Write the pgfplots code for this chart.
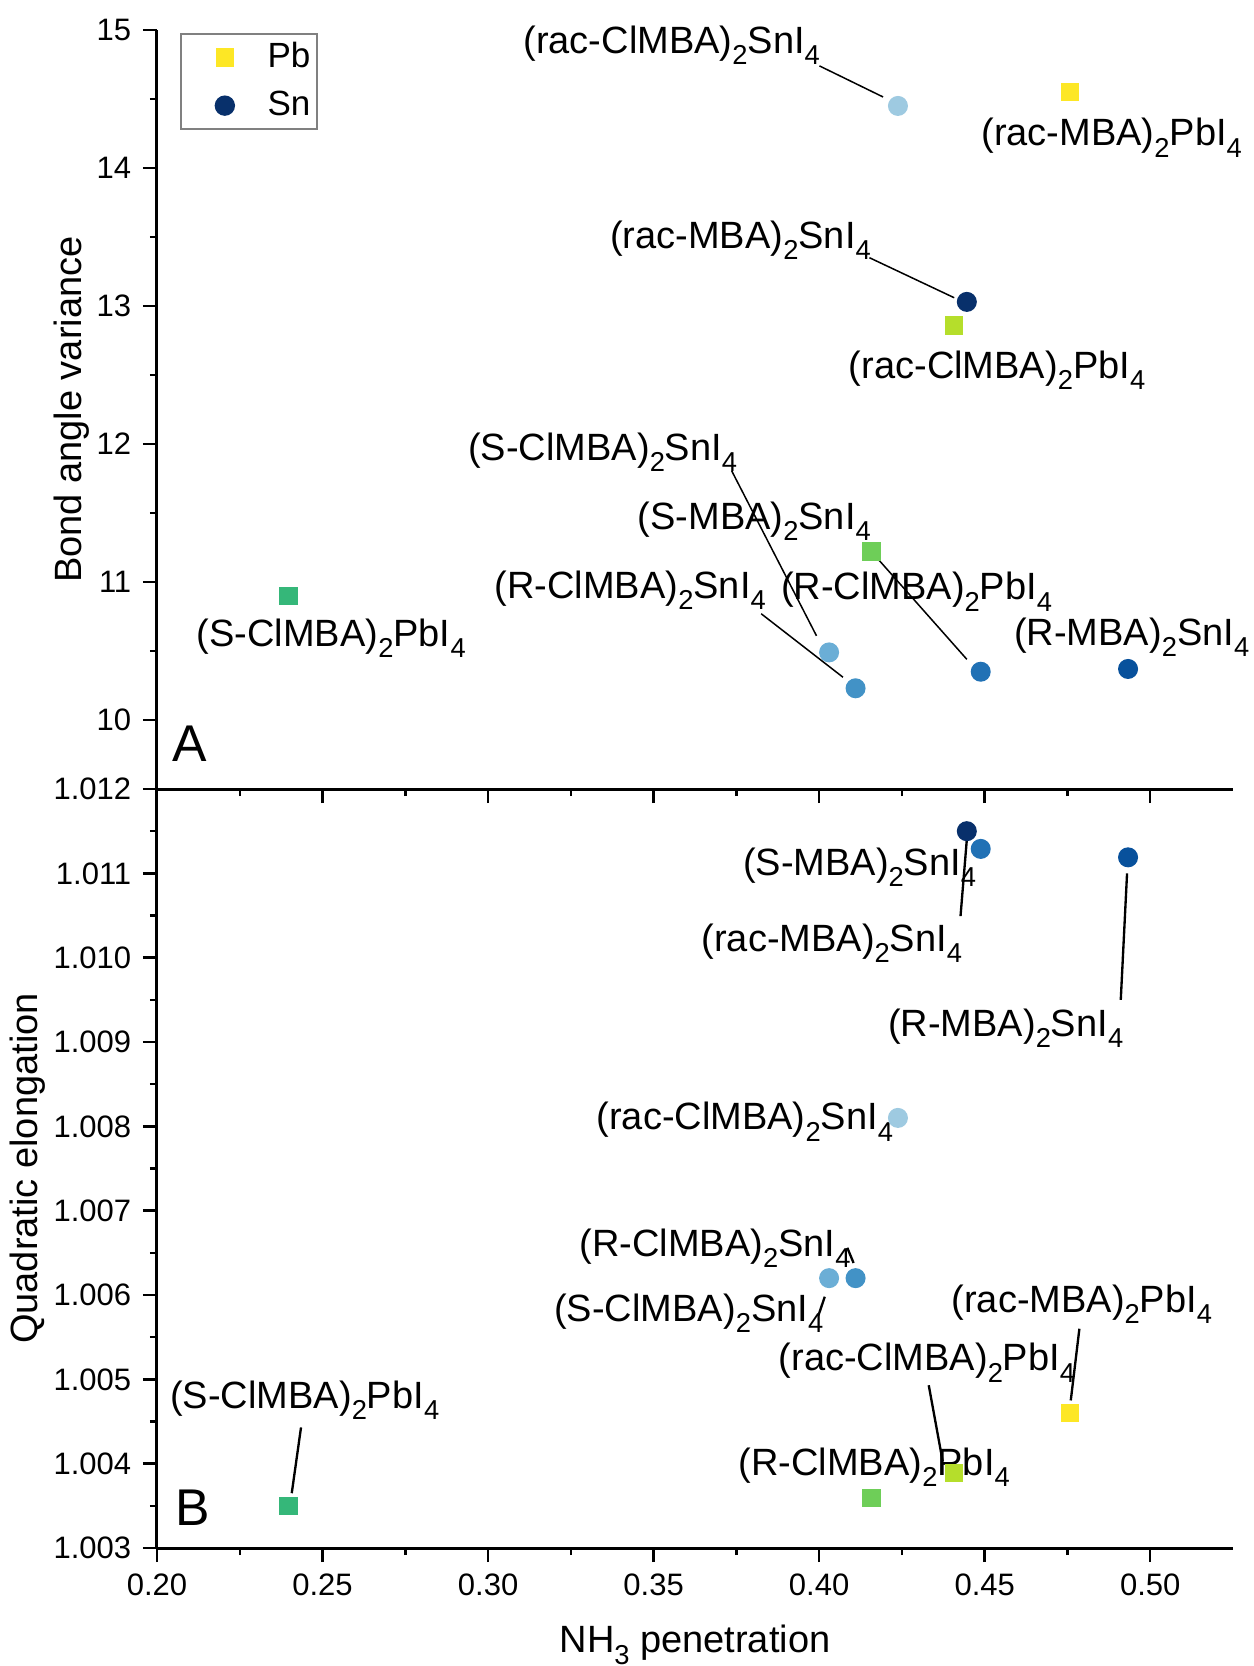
\documentclass[border=0pt]{standalone}
\usepackage{fontspec}
\setmainfont{Liberation Sans}
\usepackage{pgfplots}
\pgfplotsset{compat=1.18}

\definecolor{pbA}{HTML}{FDE725}
\definecolor{pbB}{HTML}{B5DE2B}
\definecolor{pbC}{HTML}{6ECE58}
\definecolor{pbD}{HTML}{35B779}
\definecolor{snA}{HTML}{9ECAE1}
\definecolor{snB}{HTML}{6BAED6}
\definecolor{snC}{HTML}{4292C6}
\definecolor{snD}{HTML}{2171B5}
\definecolor{snE}{HTML}{08519C}
\definecolor{snF}{HTML}{08306B}

\newcommand{\annfont}{\fontsize{11.4}{13}\selectfont}
\newcommand{\sub}[1]{\raisebox{-3.4pt}{\fontsize{8.2}{9}\selectfont #1}}
\newcommand{\cmp}[2]{(#1)\sub{2}#2I\sub{4}}

\pgfplotsset{
  panel/.style={
    scale only axis, width=322.8pt, height=227.7pt,
    xmin=0.2, xmax=0.525,
    axis lines=left,
    axis line style={-, line width=0.9pt},
    every tick/.style={black, line width=0.75pt},
    tick align=outside,
    major tick length=4.2pt, minor tick length=2.1pt,
    xtick={0.20,0.25,0.30,0.35,0.40,0.45,0.50},
    minor x tick num=1,
    minor y tick num=1,
    clip=false,
    /pgf/number format/assume math mode=true,
    tick label style={font=\fontsize{9.3}{11}\selectfont},
    label style={font=\fontsize{11.4}{13}\selectfont},
    scaled ticks=false,
  },
  pb/.style={only marks, mark=square*, mark size=2.55pt, mark options={draw=#1, fill=#1}},
  sn/.style={only marks, mark=*, mark size=2.8pt, mark options={draw=#1, fill=#1}},
}

\begin{document}
\begin{tikzpicture}
\begin{axis}[panel, name=top,
  ymin=9.5, ymax=15,
  ytick={10,11,12,13,14,15},
  xticklabels={},
  ylabel={Bond angle variance},
  ylabel style={at={(axis description cs:-0.0706,0.5)}, anchor=base, rotate=0},
  legend image code/.code={%
    \path[draw=none, fill=none] (0pt,0pt) -- (24pt,0pt);
    \draw[#1] plot coordinates {(12.2pt,0pt)};},
  legend style={at={(0.0214,0.996)}, anchor=north west, draw=gray, line width=0.5pt,
    font=\fontsize{10.5}{12}\selectfont, inner xsep=1pt, inner ysep=1.5pt,
    row sep=3.5pt, nodes={inner xsep=1pt, inner ysep=1pt}},
  legend cell align=left,
]
\addlegendimage{pb=pbA}
\addlegendentry{Pb}
\addlegendimage{sn=snF}
\addlegendentry{Sn}
% Pb
\addplot[pb=pbA, forget plot] coordinates {(0.4757,14.55)};
\addplot[pb=pbB, forget plot] coordinates {(0.4408,12.86)};
\addplot[pb=pbC, forget plot] coordinates {(0.4158,11.22)};
\addplot[pb=pbD, forget plot] coordinates {(0.2397,10.90)};
% Sn
\addplot[sn=snA, forget plot] coordinates {(0.4238,14.45)};
\addplot[sn=snB, forget plot] coordinates {(0.4030,10.49)};
\addplot[sn=snC, forget plot] coordinates {(0.4110,10.23)};
\addplot[sn=snD, forget plot] coordinates {(0.4488,10.35)};
\addplot[sn=snE, forget plot] coordinates {(0.4933,10.37)};
\addplot[sn=snF, forget plot] coordinates {(0.4446,13.03)};
% labels
\node[anchor=base west, inner sep=0pt, font=\annfont] at (axis cs:0.3105,14.83) {\cmp{rac-ClMBA}{Sn}};
\draw[line width=0.45pt] (axis cs:0.4001,14.74) -- (axis cs:0.4193,14.515);
\node[anchor=base west, inner sep=0pt, font=\annfont] at (axis cs:0.4488,14.16) {\cmp{rac-MBA}{Pb}};
\node[anchor=base west, inner sep=0pt, font=\annfont] at (axis cs:0.3367,13.42) {\cmp{rac-MBA}{Sn}};
\draw[line width=0.45pt] (axis cs:0.4152,13.35) -- (axis cs:0.4408,13.06);
\node[anchor=base west, inner sep=0pt, font=\annfont] at (axis cs:0.4088,12.475) {\cmp{rac-ClMBA}{Pb}};
\node[anchor=base west, inner sep=0pt, font=\annfont] at (axis cs:0.2938,11.88) {\cmp{S-ClMBA}{Sn}};
\draw[line width=0.45pt] (axis cs:0.3736,11.805) -- (axis cs:0.3992,10.61);
\node[anchor=base west, inner sep=0pt, font=\annfont] at (axis cs:0.3450,11.38) {\cmp{S-MBA}{Sn}};
\draw[line width=0.45pt] (axis cs:0.4158,11.22) -- (axis cs:0.4446,10.44);
\node[anchor=base west, inner sep=0pt, font=\annfont] at (axis cs:0.3018,10.88) {\cmp{R-ClMBA}{Sn}};
\draw[line width=0.45pt] (axis cs:0.3825,10.77) -- (axis cs:0.4072,10.31);
\node[anchor=base west, inner sep=0pt, font=\annfont] at (axis cs:0.3883,10.87) {\cmp{R-ClMBA}{Pb}};
\node[anchor=base west, inner sep=0pt, font=\annfont] at (axis cs:0.4587,10.54) {\cmp{R-MBA}{Sn}};
\node[anchor=base west, inner sep=0pt, font=\annfont] at (axis cs:0.2118,10.535) {\cmp{S-ClMBA}{Pb}};
\node[anchor=base west, inner sep=0pt, font=\fontsize{15.5}{17}\selectfont] at (axis cs:0.2045,9.70) {A};
\end{axis}

\begin{axis}[panel, name=bot, at={(top.south west)}, anchor=north west,
  ymin=1.003, ymax=1.012,
  ytick={1.003,1.004,1.005,1.006,1.007,1.008,1.009,1.010,1.011,1.012},
  yticklabel style={/pgf/number format/.cd, fixed, fixed zerofill, precision=3},
  xticklabel style={/pgf/number format/.cd, fixed, fixed zerofill, precision=2},
  xlabel={NH\sub{3} penetration},
  xlabel style={at={(axis description cs:0.5,-0.1383)}, anchor=base},
  ylabel={Quadratic elongation},
  ylabel style={at={(axis description cs:-0.1115,0.5)}, anchor=base, rotate=0},
]
% Pb
\addplot[pb=pbA] coordinates {(0.4757,1.00460)};
\addplot[pb=pbB] coordinates {(0.4408,1.00389)};
\addplot[pb=pbC] coordinates {(0.4158,1.00359)};
\addplot[pb=pbD] coordinates {(0.2397,1.00350)};
% Sn
\addplot[sn=snA] coordinates {(0.4238,1.00810)};
\addplot[sn=snB] coordinates {(0.4030,1.00620)};
\addplot[sn=snC] coordinates {(0.4110,1.00620)};
\addplot[sn=snD] coordinates {(0.4488,1.01129)};
\addplot[sn=snE] coordinates {(0.4933,1.01119)};
\addplot[sn=snF] coordinates {(0.4446,1.01150)};
% labels
\node[anchor=base west, inner sep=0pt, font=\annfont] at (axis cs:0.3768,1.01098) {\cmp{S-MBA}{Sn}};
\node[anchor=base west, inner sep=0pt, font=\annfont] at (axis cs:0.3643,1.010077) {\cmp{rac-MBA}{Sn}};
\draw[line width=0.7pt] (axis cs:0.4427,1.010493) -- (axis cs:0.4446,1.0114);
\node[anchor=base west, inner sep=0pt, font=\annfont] at (axis cs:0.4206,1.009069) {\cmp{R-MBA}{Sn}};
\draw[line width=0.7pt] (axis cs:0.4911,1.0095) -- (axis cs:0.4930,1.0110);
\node[anchor=base west, inner sep=0pt, font=\annfont] at (axis cs:0.3326,1.00796) {\cmp{rac-ClMBA}{Sn}};
\node[anchor=base west, inner sep=0pt, font=\annfont] at (axis cs:0.3274,1.00646) {\cmp{R-ClMBA}{Sn}};
\draw[line width=0.7pt] (axis cs:0.4085,1.00656) -- (axis cs:0.4104,1.00638);
\node[anchor=base west, inner sep=0pt, font=\annfont] at (axis cs:0.3198,1.00569) {\cmp{S-ClMBA}{Sn}};
\draw[line width=0.7pt] (axis cs:0.3998,1.00576) -- (axis cs:0.4017,1.00598);
\node[anchor=base west, inner sep=0pt, font=\annfont] at (axis cs:0.4398,1.005792) {\cmp{rac-MBA}{Pb}};
\draw[line width=0.7pt] (axis cs:0.4786,1.0056) -- (axis cs:0.4760,1.00475);
\node[anchor=base west, inner sep=0pt, font=\annfont] at (axis cs:0.3876,1.0051) {\cmp{rac-ClMBA}{Pb}};
\draw[line width=0.7pt] (axis cs:0.4331,1.00493) -- (axis cs:0.4373,1.00403);
\node[anchor=base west, inner sep=0pt, font=\annfont] at (axis cs:0.3755,1.003864) {\cmp{R-ClMBA}{Pb}};
\node[anchor=base west, inner sep=0pt, font=\annfont] at (axis cs:0.2038,1.00466) {\cmp{S-ClMBA}{Pb}};
\draw[line width=0.7pt] (axis cs:0.2435,1.00443) -- (axis cs:0.2407,1.00365);
\node[anchor=base west, inner sep=0pt, font=\fontsize{15.5}{17}\selectfont] at (axis cs:0.2054,1.003272) {B};
\end{axis}
\pgfresetboundingbox
\path (bot.south west) ++(-47.1pt,-35.4pt) rectangle ++(375.9pt,499.8pt);
\end{tikzpicture}
\end{document}
